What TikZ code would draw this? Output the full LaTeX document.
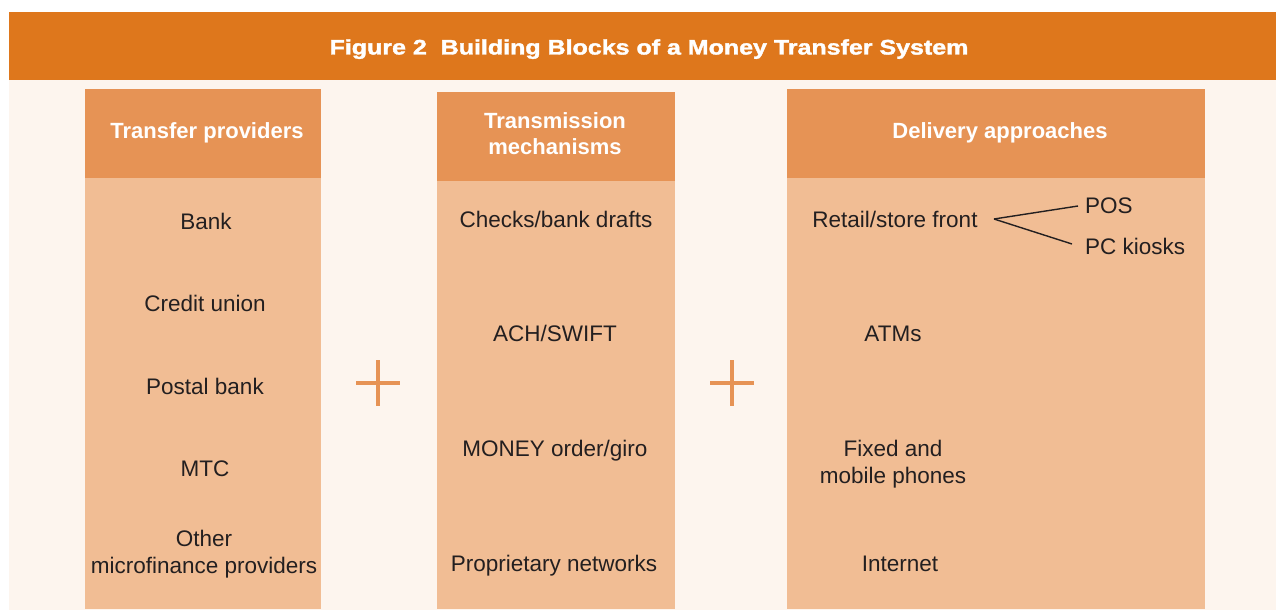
\documentclass[tikz,border=0pt]{standalone}
\usepackage{fontspec}
\setmainfont{Liberation Sans}
\newfontfamily\titlefont[FakeBold=1.6]{Liberation Sans Bold}
\usepackage{graphicx}
\definecolor{titlec}{HTML}{DE771C}
\definecolor{hdrc}{HTML}{E69355}
\definecolor{bodyc}{HTML}{F1BD94}
\definecolor{creamc}{HTML}{FDF5EE}
\definecolor{txtc}{HTML}{231F20}
\begin{document}
\begin{tikzpicture}[x=1pt,y=-1pt,
  hdr/.style={fill=hdrc, inner sep=0pt, anchor=north west, text=white,
    font=\bfseries\fontsize{22}{26}\selectfont, align=center},
  hdrtxt/.style={text=white, inner sep=0pt, anchor=base,
    font=\bfseries\fontsize{22}{26}\selectfont, align=center},
  bodybox/.style={fill=bodyc, inner sep=0pt, anchor=north west},
  txt/.style={text=txtc, font=\fontsize{22.5}{27}\selectfont, align=center, inner sep=0pt, anchor=base},
  plus/.style={draw=hdrc, line width=4pt},
  fork/.style={draw=txtc, line width=1.4pt}]
\useasboundingbox (0,0) rectangle (1276,615);
\fill[white] (0,0) rectangle (1276,615);
\fill[creamc] (9,80) rectangle (1276,610);
\node[fill=titlec, inner sep=0pt, anchor=north west, minimum width=1267pt, minimum height=68pt] (title) at (9,12) {};
\node[text=white, font=\titlefont\fontsize{21}{25}\selectfont, inner sep=0pt, anchor=base] (titletext) at (649,54.5)
  {\scalebox{1.19}[1]{Figure 2\ \ Building Blocks of a Money Transfer System}};

% column 1
\node[bodybox, minimum width=236pt, minimum height=431pt] (b1) at (85,178) {};
\node[hdr, minimum width=236pt, minimum height=89pt] (h1) at (85,89) {};
\node[hdrtxt] (h1t) at (207,139) {Transfer providers};
\node[txt] (bank) at (206,229) {Bank};
\node[txt] (cu) at (205,311) {Credit union};
\node[txt] (postal) at (205,394) {Postal bank};
\node[txt] (mtc) at (205,476) {MTC};
\node[txt] (other) at (204,573) {Other\\microfinance providers};

% column 2
\node[bodybox, minimum width=238pt, minimum height=428pt] (b2) at (437,181) {};
\node[hdr, minimum width=238pt, minimum height=89pt] (h2) at (437,92) {};
\node[hdrtxt] (h2t) at (555,154) {Transmission\\mechanisms};
\node[txt] (checks) at (556,227) {Checks/bank drafts};
\node[txt] (ach) at (555,341) {ACH/SWIFT};
\node[txt] (money) at (555,456) {MONEY order/giro};
\node[txt] (prop) at (554,571) {Proprietary networks};

% column 3
\node[bodybox, minimum width=418pt, minimum height=431pt] (b3) at (787,178) {};
\node[hdr, minimum width=418pt, minimum height=89pt] (h3) at (787,89) {};
\node[hdrtxt] (h3t) at (1000,139) {Delivery approaches};
\node[txt] (retail) at (895,227) {Retail/store front};
\node[txt, anchor=base west] (pos) at (1085,213) {POS};
\node[txt, anchor=base west] (pc) at (1085,254) {PC kiosks};
\node[txt] (atm) at (893,341) {ATMs};
\node[txt] (phones) at (893,483) {Fixed and\\mobile phones};
\node[txt] (internet) at (900,571) {Internet};
\coordinate (forkpt) at (994,219);
\coordinate (posend) at (1078,206);
\coordinate (pcend) at (1072,244);
\draw[fork] (forkpt) -- (posend);
\draw[fork] (forkpt) -- (pcend);

% plus signs
\coordinate (p1) at (378,383);
\coordinate (p2) at (732,383);
\draw[plus] ([xshift=-22pt]p1) -- ([xshift=22pt]p1);
\draw[plus] ([yshift=23pt]p1) -- ([yshift=-23pt]p1);
\draw[plus] ([xshift=-22pt]p2) -- ([xshift=22pt]p2);
\draw[plus] ([yshift=23pt]p2) -- ([yshift=-23pt]p2);
\end{tikzpicture}
\end{document}
